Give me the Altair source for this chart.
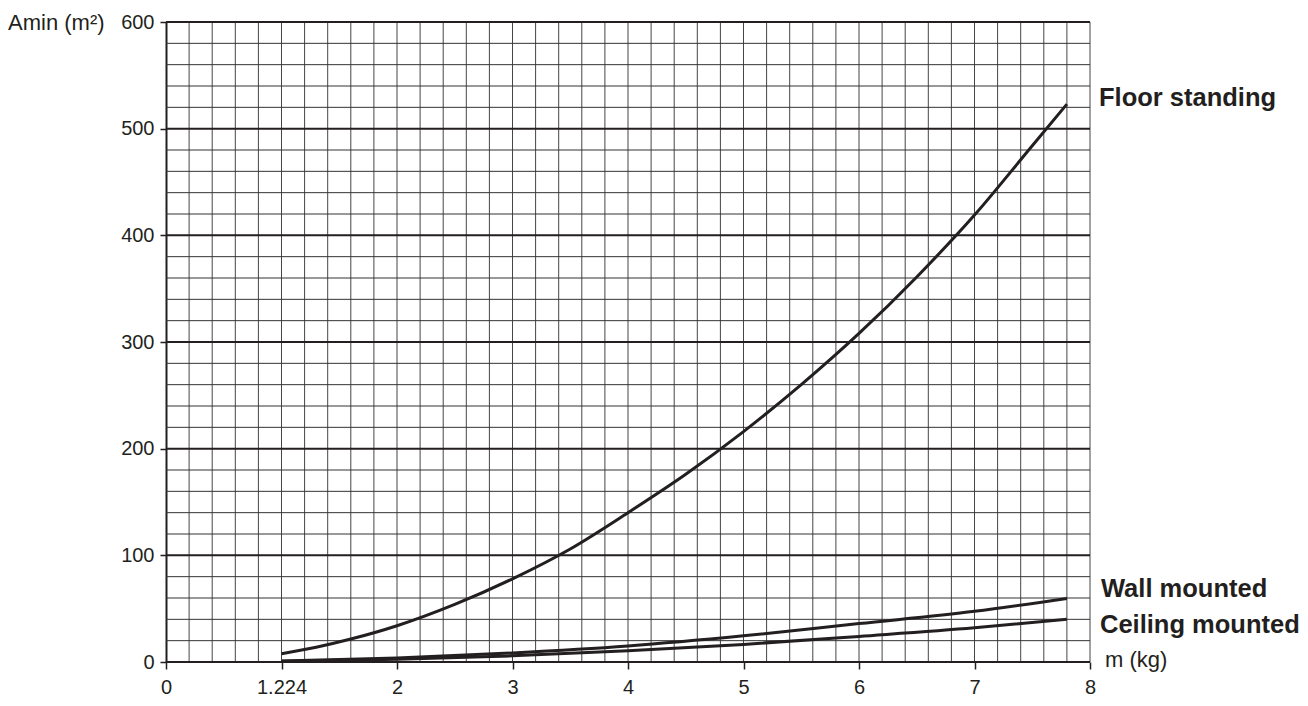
import altair as alt
import pandas as pd

# ---- data (x positions as drawn on the axis) ----
mass_floor = [1.0, 1.3, 1.6, 2.0, 2.5, 3.0, 3.5, 4.0, 4.5, 5.0, 5.5, 6.0, 6.5, 7.0, 7.5, 7.8]
amin_floor = [7.7, 13.8, 21.5, 34, 54, 78, 106, 140, 176, 216, 260, 308, 361, 419, 484, 523]

mass_wall = [1.0, 2.0, 3.0, 4.0, 5.0, 6.0, 7.0, 7.8]
amin_wall = [1.0, 3.8, 8.5, 15, 24.5, 36, 47.5, 59.5]
amin_ceiling = [0.7, 2.5, 5.8, 10.5, 16.5, 24, 32, 40]

x_ticks = [0, 1, 2, 3, 4, 5, 6, 7, 8]
x_tick_labels = ["0", "1.224", "2", "3", "4", "5", "6", "7", "8"]
y_ticks = [0, 100, 200, 300, 400, 500, 600]
v_grid = [round(0.2 * i, 1) for i in range(1, 41)]
h_minor = [v for v in range(20, 601, 20) if v % 100]
h_major = y_ticks

INK = "#231f20"
FONT = "Liberation Sans"

xs = alt.Scale(domain=[0, 8], nice=False, zero=False)
ys = alt.Scale(domain=[0, 600], nice=False)

label_expr = "[" + ",".join(f"'{t}'" for t in x_tick_labels) + "][round(datum.value)]"

x_axis = alt.Axis(values=x_ticks, labelExpr=label_expr, title=None, grid=False, domain=False,
                  labelFontSize=20, labelFont=FONT, labelColor=INK, tickColor=INK,
                  tickSize=7, tickWidth=1.5, labelPadding=8, labelFlush=False,
                  labelOverlap=False)
y_axis = alt.Axis(values=y_ticks, title=None, grid=False, domain=True, domainColor=INK,
                  domainWidth=2, labelFontSize=20, labelFont=FONT, labelColor=INK,
                  tickColor=INK, tickSize=6, tickWidth=1.5, labelPadding=6)

vgrid = alt.Chart(pd.DataFrame({"x": v_grid})).mark_rule(color="#454545", strokeWidth=1).encode(
    x=alt.X("x:Q", scale=xs, axis=x_axis)
)
hminor = alt.Chart(pd.DataFrame({"y": h_minor})).mark_rule(color="#333333", strokeWidth=1).encode(
    y=alt.Y("y:Q", scale=ys, axis=y_axis)
)
hmajor = alt.Chart(pd.DataFrame({"y": h_major})).mark_rule(color=INK, strokeWidth=2).encode(
    y=alt.Y("y:Q", scale=ys)
)

curves = pd.concat([
    pd.DataFrame({"m": mass_floor, "a": amin_floor, "s": "Floor standing"}),
    pd.DataFrame({"m": mass_wall, "a": amin_wall, "s": "Wall mounted"}),
    pd.DataFrame({"m": mass_wall, "a": amin_ceiling, "s": "Ceiling mounted"}),
])
lines = alt.Chart(curves).mark_line(color=INK, strokeWidth=3, interpolate="monotone").encode(
    x=alt.X("m:Q", scale=xs),
    y=alt.Y("a:Q", scale=ys),
    detail="s:N",
)


def label(txt, px, py, size, bold=False):
    return alt.Chart(pd.DataFrame({"t": [txt]})).mark_text(
        align="left", baseline="alphabetic", fontSize=size, font=FONT, color=INK,
        fontWeight="bold" if bold else "normal"
    ).encode(text="t:N", x=alt.value(px), y=alt.value(py))


texts = [
    label("Floor standing", 933, 84, 25.5, True),
    label("Wall mounted", 935, 575, 25.5, True),
    label("Ceiling mounted", 934, 611, 25.5, True),
    label("m (kg)", 939, 645, 22),
    label("Amin (m²)", -158, 8, 22),
]

chart = alt.layer(vgrid, hminor, hmajor, lines, *texts).properties(
    width=924, height=640,
    autosize=alt.AutoSizeParams(type="none"),
    padding={"left": 158, "top": 14, "right": 210, "bottom": 36},
    background="white",
).configure_view(stroke=None)

chart.save("out.html", embed_options={"renderer": "svg", "actions": False})
